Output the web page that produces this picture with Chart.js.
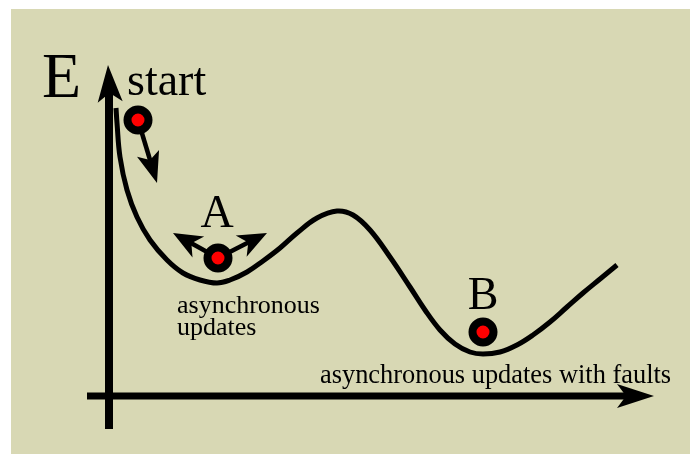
<!DOCTYPE html>
<html>
<head>
<meta charset="utf-8">
<script src="https://cdn.jsdelivr.net/npm/chart.js@4/dist/chart.umd.min.js"></script>
<style>
html,body{margin:0;padding:0;background:#fff;}
#wrap{width:690px;height:454px;position:relative;}
</style>
</head>
<body>
<div id="wrap"><canvas id="c" width="690" height="454"></canvas></div>
<script>
// ---- data (x = state, E = energy) ----
const curveX = [116,117,120,127,137,150,167,183,200,217,230,247,263,280,297,317,337,353,370,390,410,425,440,455,470,483,500,517,533,550,567,583,600,617];
const curveE = [346,331,297,264,237,214,194,181,174,171,174,182,193,206,221,236,243,239,224,197,167,144,124,110,102,100,102,109,119,132,147,161,175,189];
const ballX = [138,218,483];
const ballE = [334,196,122];
const ballNames = ['start','A','B'];
// axes (x, E)
const yAxisX = [109,109];
const yAxisE = [25,372];
const xAxisX = [87,630];
const xAxisE = [58,58];
// arrows: from (x,E) to tip (x,E)
const arrowFromX = [109,630,141,218,218];
const arrowFromE = [372,58,324,196,196];
const arrowTipX  = [108,654,157,173,267];
const arrowTipE  = [389,58,271,221,221];
// text labels
const labelText = ['E','start','A','B','asynchronous','updates','asynchronous updates with faults'];
const labelX = [42,127,217,483,177,177,320];
const labelE = [357,359,227,145,141,119,71];

const serif = "'Liberation Serif','Times New Roman',serif";
const labelFont = ['64px '+serif,'46px '+serif,'46px '+serif,'46px '+serif,'26px '+serif,'26px '+serif,'26.4px '+serif];
const labelAlign = ['left','left','center','center','left','left','left'];
const arrowStyle = [
  {w:8,L:37,H:12.5,n:9},
  {w:7,L:37,H:12,n:9},
  {w:4.5,L:31,H:11.5,n:7},
  {w:4.5,L:29,H:12,n:8},
  {w:4.5,L:29,H:12,n:8}
];

const pts = (xs, es) => xs.map((x,i)=>({x:x, y:es[i]}));

const bgPlugin = {
  id:'bg',
  beforeDraw(chart){
    const {ctx} = chart;
    ctx.save();
    ctx.fillStyle = '#ffffff';
    ctx.fillRect(0,0,chart.width,chart.height);
    ctx.fillStyle = '#d8d8b4';
    ctx.fillRect(11,9,chart.width-11,chart.height-9);
    ctx.restore();
  }
};

const arrowPlugin = {
  id:'arrows',
  beforeDatasetsDraw(chart){
    const {ctx, scales:{x, y}} = chart;
    ctx.save();
    ctx.fillStyle = '#000';
    ctx.strokeStyle = '#000';
    for (let i=0;i<arrowTipX.length;i++){
      const s = arrowStyle[i];
      const x1 = x.getPixelForValue(arrowFromX[i]), y1 = y.getPixelForValue(arrowFromE[i]);
      const x2 = x.getPixelForValue(arrowTipX[i]),  y2 = y.getPixelForValue(arrowTipE[i]);
      const dx = x2-x1, dy = y2-y1, len = Math.hypot(dx,dy);
      const ux = dx/len, uy = dy/len, px = -uy, py = ux;
      if (i>=2){
        ctx.lineWidth = s.w;
        ctx.lineCap = 'butt';
        ctx.beginPath();
        ctx.moveTo(x1,y1);
        ctx.lineTo(x2-ux*(s.L-s.n-1), y2-uy*(s.L-s.n-1));
        ctx.stroke();
      }
      const bx = x2-ux*s.L, by = y2-uy*s.L;
      ctx.beginPath();
      ctx.moveTo(x2,y2);
      ctx.lineTo(bx+px*s.H, by+py*s.H);
      ctx.lineTo(bx+ux*s.n, by+uy*s.n);
      ctx.lineTo(bx-px*s.H, by-py*s.H);
      ctx.closePath();
      ctx.fill();
    }
    ctx.restore();
  }
};

const textPlugin = {
  id:'texts',
  afterDatasetsDraw(chart){
    const {ctx, scales:{x, y}} = chart;
    ctx.save();
    ctx.fillStyle = '#000';
    ctx.textBaseline = 'alphabetic';
    for (let i=0;i<labelText.length;i++){
      ctx.font = labelFont[i];
      ctx.textAlign = labelAlign[i];
      ctx.fillText(labelText[i], x.getPixelForValue(labelX[i]), y.getPixelForValue(labelE[i]));
    }
    ctx.restore();
  }
};

new Chart(document.getElementById('c'), {
  type:'scatter',
  data:{
    datasets:[
      {label:'balls', data:pts(ballX,ballE), order:0, pointRadius:10.5, pointHoverRadius:10.5,
       pointBorderWidth:8, pointBackgroundColor:'#ff0000', pointBorderColor:'#000', showLine:false, clip:false},
      {label:'energy', data:pts(curveX,curveE), order:1, showLine:true, pointRadius:0, borderWidth:5,
       borderColor:'#000', tension:0.4, borderCapStyle:'butt', fill:false, clip:false},
      {label:'yaxis', data:pts(yAxisX,yAxisE), order:2, showLine:true, pointRadius:0, borderWidth:8, borderColor:'#000', clip:false},
      {label:'xaxis', data:pts(xAxisX,xAxisE), order:2, showLine:true, pointRadius:0, borderWidth:7, borderColor:'#000', clip:false}
    ]
  },
  options:{
    responsive:false, animation:false, devicePixelRatio:1,
    layout:{padding:0, autoPadding:false},
    plugins:{legend:{display:false}, tooltip:{enabled:false}},
    events:[],
    scales:{
      x:{type:'linear', min:0, max:690, display:false},
      y:{type:'linear', min:0, max:454, display:false}
    }
  },
  plugins:[bgPlugin, arrowPlugin, textPlugin]
});
</script>
</body>
</html>
